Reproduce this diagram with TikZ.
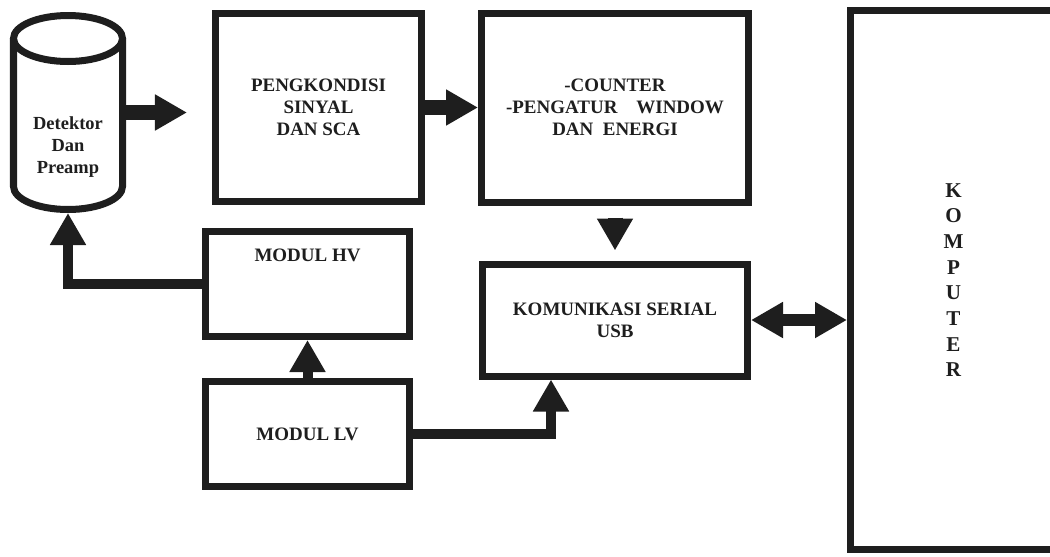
\documentclass[tikz,border=0pt]{standalone}
\usepackage{fontspec}
\setmainfont{Liberation Serif}
\usetikzlibrary{arrows.meta,positioning}
\definecolor{ink}{HTML}{1E1E1E}
\tikzset{
  blok/.style={
    rectangle,
    draw=ink,
    line width=1.4mm,
    fill=white,
    text=ink,
    align=center,
    font=\fontsize{10.8}{12.5}\selectfont\bfseries
  },
  tabung/.style={draw=ink,line width=1.4mm},
  fat/.style={-{Triangle[length=6.4mm,width=6.8mm]},line width=3mm,draw=ink},
  pipe/.style={fat,line width=2mm},
  duo/.style={{Triangle[length=6.4mm,width=6.8mm]}-{Triangle[length=6.4mm,width=6.8mm]},line width=2.4mm,draw=ink}
}

\begin{document}
\begin{tikzpicture}[x=0.2mm,y=-0.2mm]
    \useasboundingbox (0,0) rectangle (1050,556);

    % detektor (tabung)
    \draw[tabung] (68,38.5) ellipse [x radius=54.5, y radius=23];
    \draw[tabung] (13.5,38.5) -- (13.5,186.5) arc[start angle=180, end angle=0, x radius=54.5, y radius=23] -- (122.5,38.5);
    \node[outer sep=0,minimum width=23.2mm,minimum height=40.2mm,text=ink,font=\fontsize{10.5}{12.5}\selectfont\bfseries] (det) at (68,112.5)
      {\raisebox{-22.5pt}[0pt][0pt]{\begin{tabular}{@{}c@{}}Detektor\\Dan\\Preamp\end{tabular}}};

    \node[blok,minimum width=41.2mm,minimum height=37.6mm] (cond) at (318.5,107.5) {PENGKONDISI\\SINYAL\\DAN SCA};
    \node[blok,right=10.6mm of cond,minimum width=53.4mm,minimum height=37.8mm] (cnt) {-COUNTER\\-PENGATUR\quad WINDOW\\DAN\ \ ENERGI};
    \node[blok,below=11mm of cnt,minimum width=53mm,minimum height=22.4mm] (kom) {KOMUNIKASI SERIAL\\USB};
    \node[blok,minimum width=40.8mm,minimum height=21mm,text height=8pt,text depth=34pt] (hv) at (307.5,284) {MODUL HV};
    \node[blok,below=7.6mm of hv,minimum width=40.8mm,minimum height=21mm] (lv) {MODUL LV};
    \node[blok,minimum width=41.2mm,minimum height=107.8mm,font=\fontsize{12}{14.6}\selectfont\bfseries] (pc) at (953.5,280) {K\\O\\M\\P\\U\\T\\E\\R};

    \draw[fat,shorten >=5mm] (det.east) -- (det.east -| cond.west);
    \draw[fat] (cond.east) -- (cond.east -| cnt.west);
    \draw[fat,shorten <=2.4mm,shorten >=2mm] (cnt.south) -- (cnt.south |- kom.north);
    \draw[duo] (kom.east) -- (kom.east -| pc.west);
    \draw[pipe] (hv.west) -| (det.south);
    \draw[pipe] (lv.north) -- (hv.south);
    \draw[pipe] (lv.east) -| ([xshift=-12.8mm]kom.south);
  \end{tikzpicture}
\end{document}
